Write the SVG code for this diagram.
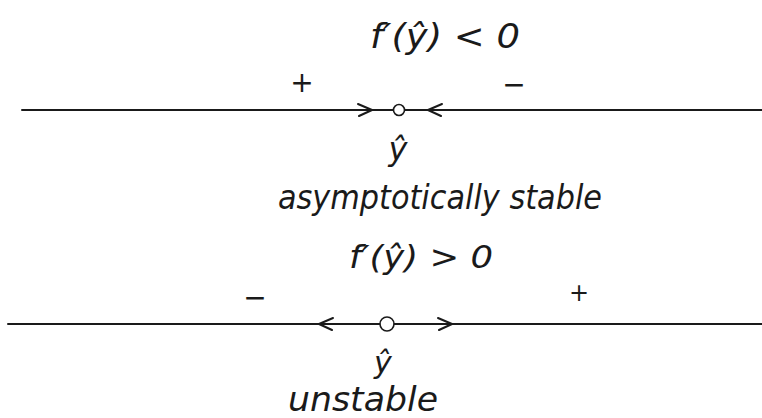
<svg xmlns="http://www.w3.org/2000/svg" width="762" height="418" viewBox="0 0 762 418">
<defs>
<style>
.ink{fill:#1a1a1a;font-family:"DejaVu Sans","Liberation Sans",sans-serif;font-style:italic}
.ln{stroke:#1a1a1a;stroke-width:2;fill:none;stroke-linecap:round;stroke-linejoin:round}
.pt{stroke:#1a1a1a;stroke-width:1.6;fill:#fff}
</style>
</defs>
<rect width="762" height="418" fill="#fff"/>
<g id="connectors">
<line class="ln" x1="22" y1="110" x2="762" y2="110"/>
<path class="ln" d="M358 104 L372 110 L359 116"/>
<path class="ln" d="M442 104 L428 110 L441 116"/>
<line class="ln" x1="8" y1="324" x2="762" y2="324"/>
<path class="ln" d="M333 318 L319 324 L332 330"/>
<path class="ln" d="M438 318 L452 324 L439 330"/>
</g>
<g id="top-title"><text class="ink" x="370" y="48" font-size="34" textLength="150" lengthAdjust="spacingAndGlyphs">f′(ŷ) &lt; 0</text></g>
<g id="top-plus"><text class="ink" x="302" y="92" font-size="28" text-anchor="middle">+</text></g>
<g id="top-minus"><text class="ink" x="514" y="94" font-size="28" text-anchor="middle">−</text></g>
<g id="node-stable"><circle class="pt" cx="399" cy="110" r="5.5"/></g>
<g id="label-yhat1"><text class="ink" x="398" y="160" font-size="32" text-anchor="middle">ŷ</text></g>
<g id="label-stable"><text class="ink" x="278" y="209" font-size="34" textLength="324" lengthAdjust="spacingAndGlyphs">asymptotically stable</text></g>
<g id="bottom-title"><text class="ink" x="349" y="268" font-size="32" textLength="144" lengthAdjust="spacingAndGlyphs">f′(ŷ) &gt; 0</text></g>
<g id="bottom-minus"><text class="ink" x="255" y="307" font-size="28" text-anchor="middle">−</text></g>
<g id="bottom-plus"><text class="ink" x="579" y="301" font-size="24" text-anchor="middle">+</text></g>
<g id="node-unstable"><circle class="pt" cx="387" cy="324" r="7"/></g>
<g id="label-yhat2"><text class="ink" x="383" y="373" font-size="30" text-anchor="middle">ŷ</text></g>
<g id="label-unstable"><text class="ink" x="288" y="411" font-size="34" textLength="150" lengthAdjust="spacingAndGlyphs">unstable</text></g>
</svg>
